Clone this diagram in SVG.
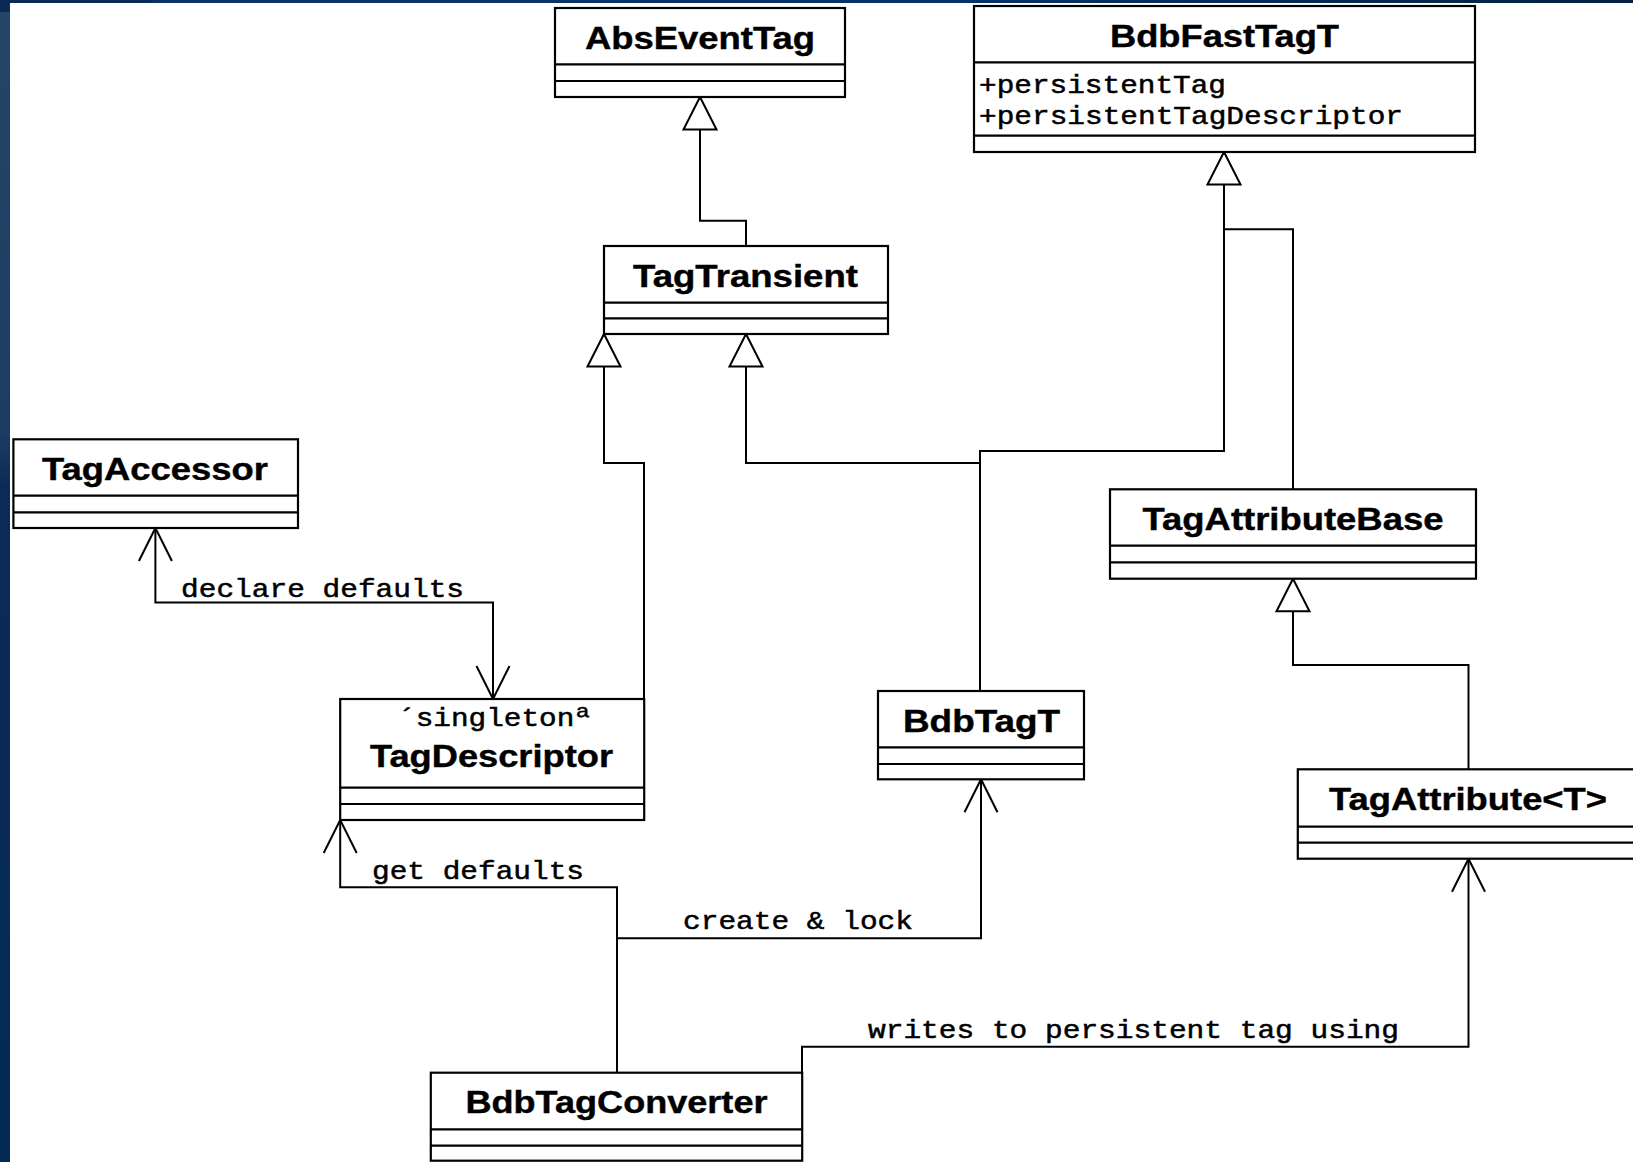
<svg xmlns="http://www.w3.org/2000/svg" width="1633" height="1162" viewBox="0 0 1633 1162">
<defs>
<linearGradient id="leftbar" x1="0" y1="0" x2="0" y2="1">
<stop offset="0" stop-color="#254668"/>
<stop offset="0.37" stop-color="#1c3d62"/>
<stop offset="0.42" stop-color="#0a2b56"/>
<stop offset="1" stop-color="#062a55"/>
</linearGradient>
<linearGradient id="topbar" x1="0" y1="0" x2="1" y2="0">
<stop offset="0" stop-color="#0a2a55"/>
<stop offset="0.09" stop-color="#0a2a55"/>
<stop offset="0.1" stop-color="#0a3566"/>
<stop offset="0.6" stop-color="#063366"/>
<stop offset="1" stop-color="#052040"/>
</linearGradient>
<marker id="tri" markerUnits="userSpaceOnUse" markerWidth="40" markerHeight="40" refX="0" refY="0" orient="auto" overflow="visible">
<path d="M0,0 L-32.5,-16.5 L-32.5,16.5 Z" fill="#fff" stroke="#000" stroke-width="2"/>
</marker>
<marker id="open" markerUnits="userSpaceOnUse" markerWidth="40" markerHeight="40" refX="0" refY="0" orient="auto-start-reverse" overflow="visible">
<path d="M-33,-16.5 L0,0 L-33,16.5" fill="none" stroke="#000" stroke-width="2"/>
</marker>
</defs>
<style>
.box{fill:#fff;stroke:#000;stroke-width:2.2}
.div{stroke:#000;stroke-width:2.2}
.name{font-family:"Liberation Sans",Arial,sans-serif;font-weight:bold;font-size:30.5px;fill:#000;stroke:#000;stroke-width:0.4}
.mono{font-family:"Liberation Mono","Courier New",monospace;font-size:26px;fill:#000;stroke:#000;stroke-width:0.5}
.conn{fill:none;stroke:#000;stroke-width:2}
</style>
<rect x="0" y="0" width="1633" height="1162" fill="#fff"/>
<rect x="0" y="0" width="10" height="1162" fill="url(#leftbar)"/>
<rect x="0" y="0" width="1633" height="3" fill="url(#topbar)"/>
<rect x="0" y="0" width="10" height="12" fill="#0a2a55"/>

<g id="connectors">
<path class="conn" d="M746,246 V220.7 H700 V97" marker-end="url(#tri)"/>
<path class="conn" d="M644,699 V463 H604 V334" marker-end="url(#tri)"/>
<path class="conn" d="M980,463 H746 V334" marker-end="url(#tri)"/>
<path class="conn" d="M980,691 V451 H1224 V152" marker-end="url(#tri)"/>
<path class="conn" d="M1293,489.3 V229.3 H1224"/>
<path class="conn" d="M1468.5,769.3 V665 H1293 V578.7" marker-end="url(#tri)"/>
<path class="conn" d="M155.4,528 V602.5 H493 V699" marker-start="url(#open)" marker-end="url(#open)"/>
<path class="conn" d="M617,1072.7 V887.3 H340.2 V820" marker-end="url(#open)"/>
<path class="conn" d="M617,938.3 H981 V779.3" marker-end="url(#open)"/>
<path class="conn" d="M802,1072.7 V1046.7 H1468.5 V858.7" marker-end="url(#open)"/>
<text class="mono" x="181" y="596.7" textLength="283" lengthAdjust="spacingAndGlyphs">declare defaults</text>
<text class="mono" x="372" y="879" textLength="212" lengthAdjust="spacingAndGlyphs">get defaults</text>
<text class="mono" x="683" y="929" textLength="230" lengthAdjust="spacingAndGlyphs">create &amp; lock</text>
<text class="mono" x="868" y="1038.3" textLength="531" lengthAdjust="spacingAndGlyphs">writes to persistent tag using</text>
</g>

<g id="AbsEventTag">
<rect class="box" x="555" y="8" width="290" height="89"/>
<line class="div" x1="555" y1="64.3" x2="845" y2="64.3"/>
<line class="div" x1="555" y1="81" x2="845" y2="81"/>
<text class="name" x="585" y="49.3" textLength="230" lengthAdjust="spacingAndGlyphs">AbsEventTag</text>
</g>

<g id="BdbFastTagT">
<rect class="box" x="974" y="6" width="501" height="146"/>
<line class="div" x1="974" y1="62.3" x2="1475" y2="62.3"/>
<line class="div" x1="974" y1="135.7" x2="1475" y2="135.7"/>
<text class="name" x="1110" y="46.7" textLength="229" lengthAdjust="spacingAndGlyphs">BdbFastTagT</text>
<text class="mono" x="979" y="92.7" textLength="247" lengthAdjust="spacingAndGlyphs">+persistentTag</text>
<text class="mono" x="979" y="124" textLength="424" lengthAdjust="spacingAndGlyphs">+persistentTagDescriptor</text>
</g>

<g id="TagTransient">
<rect class="box" x="604" y="246" width="284" height="88"/>
<line class="div" x1="604" y1="302.7" x2="888" y2="302.7"/>
<line class="div" x1="604" y1="318.3" x2="888" y2="318.3"/>
<text class="name" x="633" y="286.7" textLength="225" lengthAdjust="spacingAndGlyphs">TagTransient</text>
</g>

<g id="TagAccessor">
<rect class="box" x="13.4" y="439.3" width="284.6" height="88.7"/>
<line class="div" x1="13.4" y1="495.7" x2="298" y2="495.7"/>
<line class="div" x1="13.4" y1="512.3" x2="298" y2="512.3"/>
<text class="name" x="42" y="480" textLength="226" lengthAdjust="spacingAndGlyphs">TagAccessor</text>
</g>

<g id="TagDescriptor">
<rect class="box" x="340.2" y="699" width="304" height="121"/>
<line class="div" x1="340.2" y1="787.7" x2="644.2" y2="787.7"/>
<line class="div" x1="340.2" y1="804" x2="644.2" y2="804"/>
<text class="mono" x="398" y="725.5" textLength="194" lengthAdjust="spacingAndGlyphs">´singletonª</text>
<text class="name" x="370" y="766.7" textLength="243" lengthAdjust="spacingAndGlyphs">TagDescriptor</text>
</g>

<g id="BdbTagT">
<rect class="box" x="878" y="691" width="206" height="88.3"/>
<line class="div" x1="878" y1="747.3" x2="1084" y2="747.3"/>
<line class="div" x1="878" y1="764" x2="1084" y2="764"/>
<text class="name" x="903" y="731.7" textLength="157" lengthAdjust="spacingAndGlyphs">BdbTagT</text>
</g>

<g id="TagAttributeBase">
<rect class="box" x="1110" y="489.3" width="366" height="89.4"/>
<line class="div" x1="1110" y1="545.7" x2="1476" y2="545.7"/>
<line class="div" x1="1110" y1="562.3" x2="1476" y2="562.3"/>
<text class="name" x="1142.5" y="530" textLength="301" lengthAdjust="spacingAndGlyphs">TagAttributeBase</text>
</g>

<g id="TagAttribute">
<rect class="box" x="1297.8" y="769.3" width="345" height="89.4"/>
<line class="div" x1="1297.8" y1="826.7" x2="1642.8" y2="826.7"/>
<line class="div" x1="1297.8" y1="842.7" x2="1642.8" y2="842.7"/>
<text class="name" x="1329" y="810" textLength="278" lengthAdjust="spacingAndGlyphs">TagAttribute&lt;T&gt;</text>
</g>

<g id="BdbTagConverter">
<rect class="box" x="430.8" y="1072.7" width="371.4" height="88"/>
<line class="div" x1="430.8" y1="1129.3" x2="802.2" y2="1129.3"/>
<line class="div" x1="430.8" y1="1145.7" x2="802.2" y2="1145.7"/>
<text class="name" x="465.5" y="1113.3" textLength="302" lengthAdjust="spacingAndGlyphs">BdbTagConverter</text>
</g>
</svg>
